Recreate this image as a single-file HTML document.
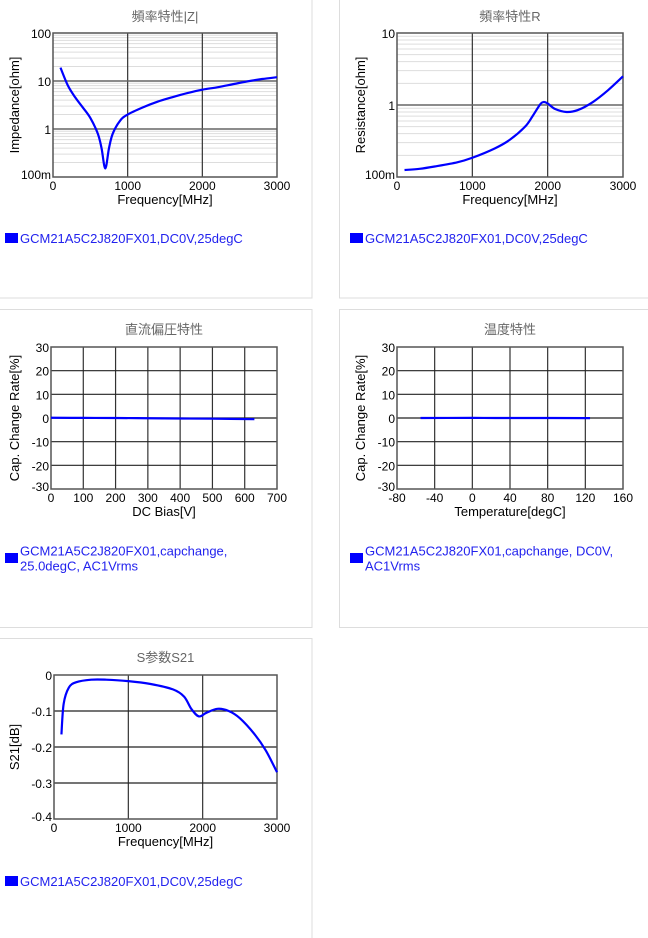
<!DOCTYPE html>
<html><head><meta charset="utf-8">
<style>
body{margin:0;background:#fff;width:648px;height:938px;overflow:hidden;font-family:"Liberation Sans","Noto Sans CJK JP",sans-serif}
svg{position:absolute;left:0;top:0}
text{font-family:"Liberation Sans","Noto Sans CJK JP",sans-serif}
</style></head><body>
<svg id="s" width="648" height="938">
<rect x="-2" y="-2" width="314" height="300" fill="none" stroke="#ddd"/>
<rect x="339.5" y="-2" width="320" height="300" fill="none" stroke="#ddd"/>
<rect x="-2" y="309.5" width="314" height="318" fill="none" stroke="#ddd"/>
<rect x="339.5" y="309.5" width="320" height="318" fill="none" stroke="#ddd"/>
<rect x="-2" y="638.5" width="314" height="310" fill="none" stroke="#ddd"/>
</svg>
<script>
const zFreq=[100,200,300,400,500,600,650,700,750,800,900,1000,1200,1400,1600,1800,2000,2200,2400,2600,2800,3000];
const zVals=[19,8,4.5,2.8,1.7,0.8,0.4,0.15,0.4,0.8,1.5,2.0,2.8,3.7,4.6,5.6,6.6,7.4,8.5,9.8,11,12];
const rFreq=[100,300,500,800,1000,1300,1500,1700,1800,1900,1950,2000,2100,2250,2400,2600,2800,3000];
const rVals=[0.125,0.13,0.14,0.16,0.185,0.25,0.33,0.5,0.7,1.02,1.1,1.05,0.88,0.8,0.85,1.1,1.6,2.5];
const dcVolt=[0,100,200,300,400,500,630];
const dcVals=[0.1,0.05,0,-0.1,-0.2,-0.3,-0.5];
const tTemp=[-55,0,25,85,125];
const tVals=[0,0.05,0,0,-0.05];
const sFreq=[100,130,200,300,500,700,1000,1300,1600,1750,1850,1950,2050,2200,2350,2500,2700,2850,3000];
const sVals=[-0.165,-0.08,-0.035,-0.02,-0.013,-0.013,-0.017,-0.025,-0.04,-0.06,-0.095,-0.115,-0.105,-0.094,-0.1,-0.12,-0.165,-0.21,-0.27];
const freqTicks=['0','1000','2000','3000'];
const zTicks=['100m','1','10','100'];
const rTicks=['100m','1','10'];
const capTicks=['-30','-20','-10','0','10','20','30'];
const dcTicks=['0','100','200','300','400','500','600','700'];
const tempTicks=['-80','-40','0','40','80','120','160'];
const sTicks=['-0.4','-0.3','-0.2','-0.1','0'];

const S=document.getElementById('s');const NS='http://www.w3.org/2000/svg';
function mk(tag,a,txt){const e=document.createElementNS(NS,tag);for(const k in a)e.setAttribute(k,a[k]);if(txt!=null)e.textContent=txt;S.appendChild(e);return e;}
function smooth(p){let d='M'+p[0][0]+','+p[0][1];for(let i=0;i<p.length-1;i++){const a=p[i-1]||p[i],b=p[i],c=p[i+1],e=p[i+2]||c;d+=' C'+(b[0]+(c[0]-a[0])/6)+','+(b[1]+(c[1]-a[1])/6)+' '+(c[0]-(e[0]-b[0])/6)+','+(c[1]-(e[1]-b[1])/6)+' '+c[0]+','+c[1];}return d;}
function chart(o){
 const {x0,x1,y0,y1,xmin,xmax,ymin,ymax,log,name}=o;
 const X=v=>x0+(v-xmin)/(xmax-xmin)*(x1-x0);
 const Y=log?v=>y1-(Math.log10(v)-Math.log10(ymin))/(Math.log10(ymax)-Math.log10(ymin))*(y1-y0):v=>y1-(v-ymin)/(ymax-ymin)*(y1-y0);
 let e=mk('text',{x:(x0+x1)/2,y:o.ty,'text-anchor':'middle','font-size':13,fill:'#666'},o.title);
 
 
 if(log){for(let d=Math.log10(ymin);d<Math.log10(ymax);d++)for(let m=2;m<10;m++){const y=Y(m*Math.pow(10,d));mk('line',{x1:x0,x2:x1,y1:y,y2:y,stroke:'#ddd','stroke-width':1});}}
 o.xt.forEach((t,i)=>{const v=xmin+i*(xmax-xmin)/(o.xt.length-1),x=X(v);
  if(i>0&&i<o.xt.length-1)mk('line',{x1:x,x2:x,y1:y0,y2:y1,stroke:'#333','stroke-width':1.2});
  e=mk('text',{x:x,y:y1+13,'text-anchor':'middle','font-size':12,fill:'#000'},t);
  
  });
 o.yt.forEach((t,i)=>{const v=log?ymin*Math.pow(10,i):ymin+i*(ymax-ymin)/(o.yt.length-1),y=Y(v);
  if(i>0&&i<o.yt.length-1)mk('line',{x1:x0,x2:x1,y1:y,y2:y,stroke:log?'#666':'#222','stroke-width':log?1.5:1.2});
  e=mk('text',{x:x0-2,y:y+(i==0?2:5),'text-anchor':'end','font-size':12,fill:'#000'},t);
  
  });
 e=mk('rect',{x:x0,y:y0,width:x1-x0,height:y1-y0,fill:'none',stroke:'#555','stroke-width':1.5});
 
 
 e=mk('text',{x:(x0+x1)/2,y:y1+27,'text-anchor':'middle','font-size':13,fill:'#000'},o.xl);
 
 
 e=mk('text',{x:0,y:0,'text-anchor':'middle','font-size':13,fill:'#000',transform:'translate('+o.ylx+','+(y0+y1)/2+') rotate(-90)'},o.yl);
 
 
 const pts=o.xs.map((v,i)=>[X(v),Y(o.ys[i])]);
 e=mk('path',{d:smooth(pts),fill:'none',stroke:'#0000ff','stroke-width':2.2});
 
 
 e=mk('rect',{x:o.lx+5,y:o.ly-10,width:13,height:10,fill:'#0000ff'});
 
 
 o.leg.forEach((l,i)=>{e=mk('text',{x:o.lx+20,y:o.ly+(i-(o.leg.length-1)/2)*15,'font-size':13,fill:'#2222ee'},l);
  
  });
}
const L1=['GCM21A5C2J820FX01,DC0V,25degC'];
chart({name:'impedance',title:'頻率特性|Z|',ty:21,x0:53,x1:277,y0:33,y1:177,xmin:0,xmax:3000,ymin:0.1,ymax:100,log:true,xt:freqTicks,yt:zTicks,xl:'Frequency[MHz]',yl:'Impedance[ohm]',ylx:19,xs:zFreq,ys:zVals,lx:0,ly:243,leg:L1});
chart({name:'resistance',title:'頻率特性R',ty:21,x0:397,x1:623,y0:33,y1:177,xmin:0,xmax:3000,ymin:0.1,ymax:10,log:true,xt:freqTicks,yt:rTicks,xl:'Frequency[MHz]',yl:'Resistance[ohm]',ylx:365,xs:rFreq,ys:rVals,lx:345,ly:243,leg:L1});
chart({name:'dc-bias',title:'直流偏圧特性',ty:334,x0:51,x1:277,y0:347,y1:489,xmin:0,xmax:700,ymin:-30,ymax:30,log:false,xt:dcTicks,yt:capTicks,xl:'DC Bias[V]',yl:'Cap. Change Rate[%]',ylx:19,xs:dcVolt,ys:dcVals,lx:0,ly:563,leg:['GCM21A5C2J820FX01,capchange,','25.0degC, AC1Vrms']});
chart({name:'temperature',title:'温度特性',ty:334,x0:397,x1:623,y0:347,y1:489,xmin:-80,xmax:160,ymin:-30,ymax:30,log:false,xt:tempTicks,yt:capTicks,xl:'Temperature[degC]',yl:'Cap. Change Rate[%]',ylx:365,xs:tTemp,ys:tVals,lx:345,ly:563,leg:['GCM21A5C2J820FX01,capchange, DC0V,','AC1Vrms']});
chart({name:'s21',title:'S参数S21',ty:662,x0:54,x1:277,y0:675,y1:819,xmin:0,xmax:3000,ymin:-0.4,ymax:0,log:false,xt:freqTicks,yt:sTicks,xl:'Frequency[MHz]',yl:'S21[dB]',ylx:19,xs:sFreq,ys:sVals,lx:0,ly:886,leg:L1});
</script>
</body></html>
